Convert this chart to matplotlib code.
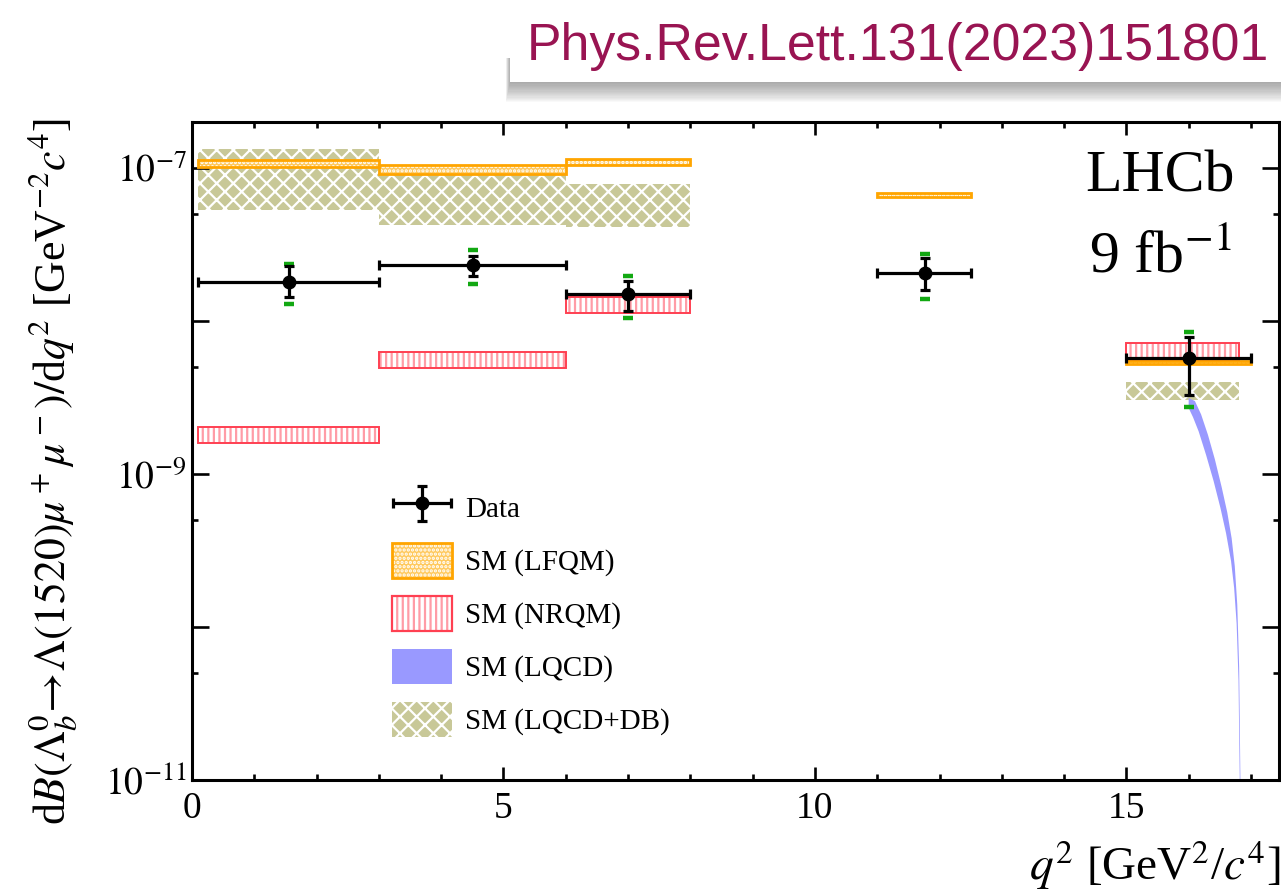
import numpy as np
import matplotlib
matplotlib.use('Agg')
import matplotlib.pyplot as plt
from matplotlib.patches import Patch, Rectangle
from matplotlib.container import ErrorbarContainer
from matplotlib.legend_handler import HandlerErrorbar, HandlerTuple
from matplotlib.ticker import FixedLocator, NullFormatter

# ---------------- data ----------------
data_q2 = [1.55, 4.51, 7.0, 11.77, 16.01]
data_lo = [0.1, 3.0, 6.0, 11.0, 15.0]
data_hi = [3.0, 6.0, 8.0, 12.5, 17.0]
data_val = [1.81e-8, 2.31e-8, 1.50e-8, 2.05e-8, 5.7e-9]
data_stat_up = [2.29e-8, 2.66e-8, 1.84e-8, 2.57e-8, 7.89e-9]
data_stat_dn = [1.445e-8, 1.98e-8, 1.16e-8, 1.595e-8, 3.28e-9]
data_tot_up = [2.37e-8, 2.90e-8, 1.98e-8, 2.73e-8, 8.51e-9]
data_tot_dn = [1.285e-8, 1.75e-8, 1.05e-8, 1.39e-8, 2.75e-9]

lfqm_lo_edge = [0.1, 3.0, 6.0, 11.0, 15.0]
lfqm_hi_edge = [3.0, 6.0, 8.0, 12.5, 17.0]
lfqm_min = [1.01e-7, 9.2e-8, 1.05e-7, 6.44e-8, 5.21e-9]
lfqm_max = [1.13e-7, 1.047e-7, 1.14e-7, 6.9e-8, 5.48e-9]

nrqm_lo_edge = [0.1, 3.0, 6.0, 15.0]
nrqm_hi_edge = [3.0, 6.0, 8.0, 16.8]
nrqm_min = [1.59e-9, 4.9e-9, 1.13e-8, 5.56e-9]
nrqm_max = [2.04e-9, 6.31e-9, 1.44e-8, 7.15e-9]

db_lo_edge = [0.1, 3.0, 6.0, 15.0]
db_hi_edge = [3.0, 6.0, 8.0, 16.8]
db_min = [5.29e-8, 4.23e-8, 4.1e-8, 3.05e-9]
db_max = [1.33e-7, 9.5e-8, 7.83e-8, 4.01e-9]

lqcd_hi_q2 = [16.0, 16.10, 16.20, 16.31, 16.42, 16.53, 16.62, 16.69, 16.74,
              16.78, 16.81, 16.83, 16.835]
lqcd_hi_val = [3.14e-9, 3.0e-9, 2.45e-9, 1.80e-9, 1.25e-9, 8.2e-10, 5.6e-10,
               3.8e-10, 2.5e-10, 1.4e-10, 5.5e-11, 1.05e-11, 1e-12]
lqcd_lo_q2 = [16.0, 16.07, 16.16, 16.28, 16.40, 16.51, 16.60, 16.68, 16.73,
              16.77, 16.80, 16.82, 16.825]
lqcd_lo_val = [2.70e-9, 2.35e-9, 1.90e-9, 1.33e-9, 9.0e-10, 6.0e-10, 4.1e-10,
               2.7e-10, 1.8e-10, 1.05e-10, 4.5e-11, 1.0e-11, 1e-12]

ytick_vals = [1e-11, 1e-10, 1e-9, 1e-8, 1e-7]
ytick_labels = [r'$10^{-11}$', '', r'$10^{-9}$', '', r'$10^{-7}$']
yminor_vals = [5e-11, 5e-10, 5e-9, 5e-8]
xtick_vals = [0, 5, 10, 15]
xtick_labels = ['0', '5', '10', '15']

# ---------------- style ----------------
plt.rcParams['font.family'] = ['Liberation Serif', 'DejaVu Serif']
plt.rcParams['mathtext.fontset'] = 'stix'
plt.rcParams['hatch.linewidth'] = 1.6

C_OR = '#FFA500'
C_OR_FACE = '#FFC95E'
C_RED = '#FF4052'
C_RED_H = '#FF9CA6'
C_BLUE = '#9999FF'
C_OLIVE = '#C8C898'
C_GREEN = '#12A812'

W, H = 1281, 890
fig = plt.figure(figsize=(W / 100, H / 100), dpi=100)
ax = fig.add_axes([192 / W, 1 - 780 / H, (1279 - 192) / W, (780 - 122) / H])
ax.set_yscale('log')
ax.set_xlim(0, 17.45)
ax.set_ylim(1e-11, 2e-7)

# LQCD+DB (olive cross-hatch)
ax.bar(db_lo_edge, np.array(db_max) - np.array(db_min), bottom=db_min,
       width=np.array(db_hi_edge) - np.array(db_lo_edge), align='edge',
       facecolor=C_OLIVE, edgecolor='white', hatch='xx', linewidth=0, zorder=1)

# NRQM (red vertical hatch)
nr_h = np.array(nrqm_max) - np.array(nrqm_min)
nr_w = np.array(nrqm_hi_edge) - np.array(nrqm_lo_edge)
ax.bar(nrqm_lo_edge, nr_h, bottom=nrqm_min, width=nr_w, align='edge',
       facecolor='white', edgecolor=C_RED_H, hatch='|||', linewidth=0, zorder=2)
ax.bar(nrqm_lo_edge, nr_h, bottom=nrqm_min, width=nr_w, align='edge',
       fill=False, edgecolor=C_RED, linewidth=1.4, zorder=2)

# LFQM (orange)
lf_h = np.array(lfqm_max) - np.array(lfqm_min)
lf_w = np.array(lfqm_hi_edge) - np.array(lfqm_lo_edge)
ax.bar(lfqm_lo_edge, lf_h, bottom=lfqm_min, width=lf_w, align='edge',
       facecolor=C_OR_FACE, edgecolor='white', hatch='....', linewidth=0, zorder=3)
ax.bar(lfqm_lo_edge, lf_h, bottom=lfqm_min, width=lf_w, align='edge',
       fill=False, edgecolor=C_OR, linewidth=2.0, zorder=3)

# LQCD (blue band)
band_x = np.concatenate([lqcd_hi_q2, lqcd_lo_q2[::-1]])
band_y = np.concatenate([lqcd_hi_val, lqcd_lo_val[::-1]])
ax.fill(band_x, band_y, color=C_BLUE, linewidth=0, zorder=2)

# Data
dv = np.array(data_val)
dq = np.array(data_q2)
tot_err = [dv - np.array(data_tot_dn), np.array(data_tot_up) - dv]
ax.errorbar(dq, dv, yerr=tot_err, fmt='none', ecolor=C_GREEN, elinewidth=0,
            capsize=3.8, capthick=3.2, zorder=4)
stat_err = [dv - np.array(data_stat_dn), np.array(data_stat_up) - dv]
x_err = [dq - np.array(data_lo), np.array(data_hi) - dq]
eb = ax.errorbar(dq, dv, yerr=stat_err, xerr=x_err, fmt='o', color='black',
                 ms=9, elinewidth=2.3, capsize=3.8, capthick=2.3, zorder=5,
                 label='Data')

# axes styling
ax.set_xticks(xtick_vals)
ax.set_xticklabels(xtick_labels)
ax.xaxis.set_minor_locator(FixedLocator(np.arange(0, 18, 1)))
ax.yaxis.set_major_locator(FixedLocator(ytick_vals))
ax.set_yticklabels(ytick_labels)
ax.yaxis.set_minor_locator(FixedLocator(yminor_vals))
ax.yaxis.set_minor_formatter(NullFormatter())
for s in ax.spines.values():
    s.set_linewidth(2.2)
ax.tick_params(axis='both', which='both', direction='in', top=True, right=True,
               width=1.9, labelsize=27)
ax.tick_params(axis='x', which='major', length=9.5, pad=8)
ax.tick_params(axis='y', which='major', length=12, pad=4)
ax.tick_params(axis='both', which='minor', length=4.5)

ax.set_ylabel(r'd$B(\Lambda_b^0\!\rightarrow\!\Lambda(1520)\mu^+\mu^-)/$d$q^2$ [GeV$^{-2}c^4$]',
              fontsize=31.5, loc='top')
ax.yaxis.set_label_coords(-0.104, 1.006)
ax.set_xlabel(r'$q^2$ [GeV$^2$/$c^4$]', fontsize=34, loc='right')
ax.xaxis.set_label_coords(1.001, -0.088)

fig.text(1160 / W, 1 - 192 / H, 'LHCb', fontsize=43, ha='center', va='baseline')
fig.text(1160 / W, 1 - 272 / H, r'9 fb$^{-1}$', fontsize=43, ha='center', va='baseline')

# legend
h_lfqm = (Patch(facecolor=C_OR_FACE, edgecolor='white', hatch='....', linewidth=0),
          Patch(fill=False, edgecolor=C_OR, linewidth=2.0))
h_nrqm = (Patch(facecolor='white', edgecolor=C_RED_H, hatch='|||', linewidth=0),
          Patch(fill=False, edgecolor=C_RED, linewidth=1.6))
h_lqcd = Patch(facecolor=C_BLUE, edgecolor='none')
h_db = Patch(facecolor=C_OLIVE, edgecolor='white', hatch='xx', linewidth=0)
leg = ax.legend([eb, h_lfqm, h_nrqm, h_lqcd, h_db],
                ['Data', 'SM (LFQM)', 'SM (NRQM)', 'SM (LQCD)', 'SM (LQCD+DB)'],
                handler_map={ErrorbarContainer: HandlerErrorbar(xerr_size=1.0, yerr_size=0.6),
                             tuple: HandlerTuple(ndivide=1)},
                loc='upper left', bbox_to_anchor=((392 - 192) / 1087, (780 - 490) / 658),
                frameon=False, fontsize=21, borderpad=0, borderaxespad=0,
                handlelength=2.05, handleheight=1.45, labelspacing=0.63,
                handletextpad=0.45)

# header box with shadow
for k in range(1, 18):
    fig.add_artist(Rectangle(((510 - 0.25 * k) / W, 1 - (82 + 1.2 * k) / H),
                             (W - 510 + 0.25 * k) / W, (24 + 1.2 * k) / H,
                             transform=fig.transFigure, facecolor='#555555',
                             edgecolor='none', alpha=0.035, zorder=10))
fig.add_artist(Rectangle((510 / W, 1 - 82 / H), (W - 510) / W, 82 / H,
                         transform=fig.transFigure, facecolor='white',
                         edgecolor='none', zorder=11))
fig.text(527 / W, 1 - 60 / H, 'Phys.Rev.Lett.131(2023)151801', family='Liberation Sans',
         fontsize=37.3, color='#991452', ha='left', va='baseline', zorder=12)

fig.savefig('out.png', dpi=100)
